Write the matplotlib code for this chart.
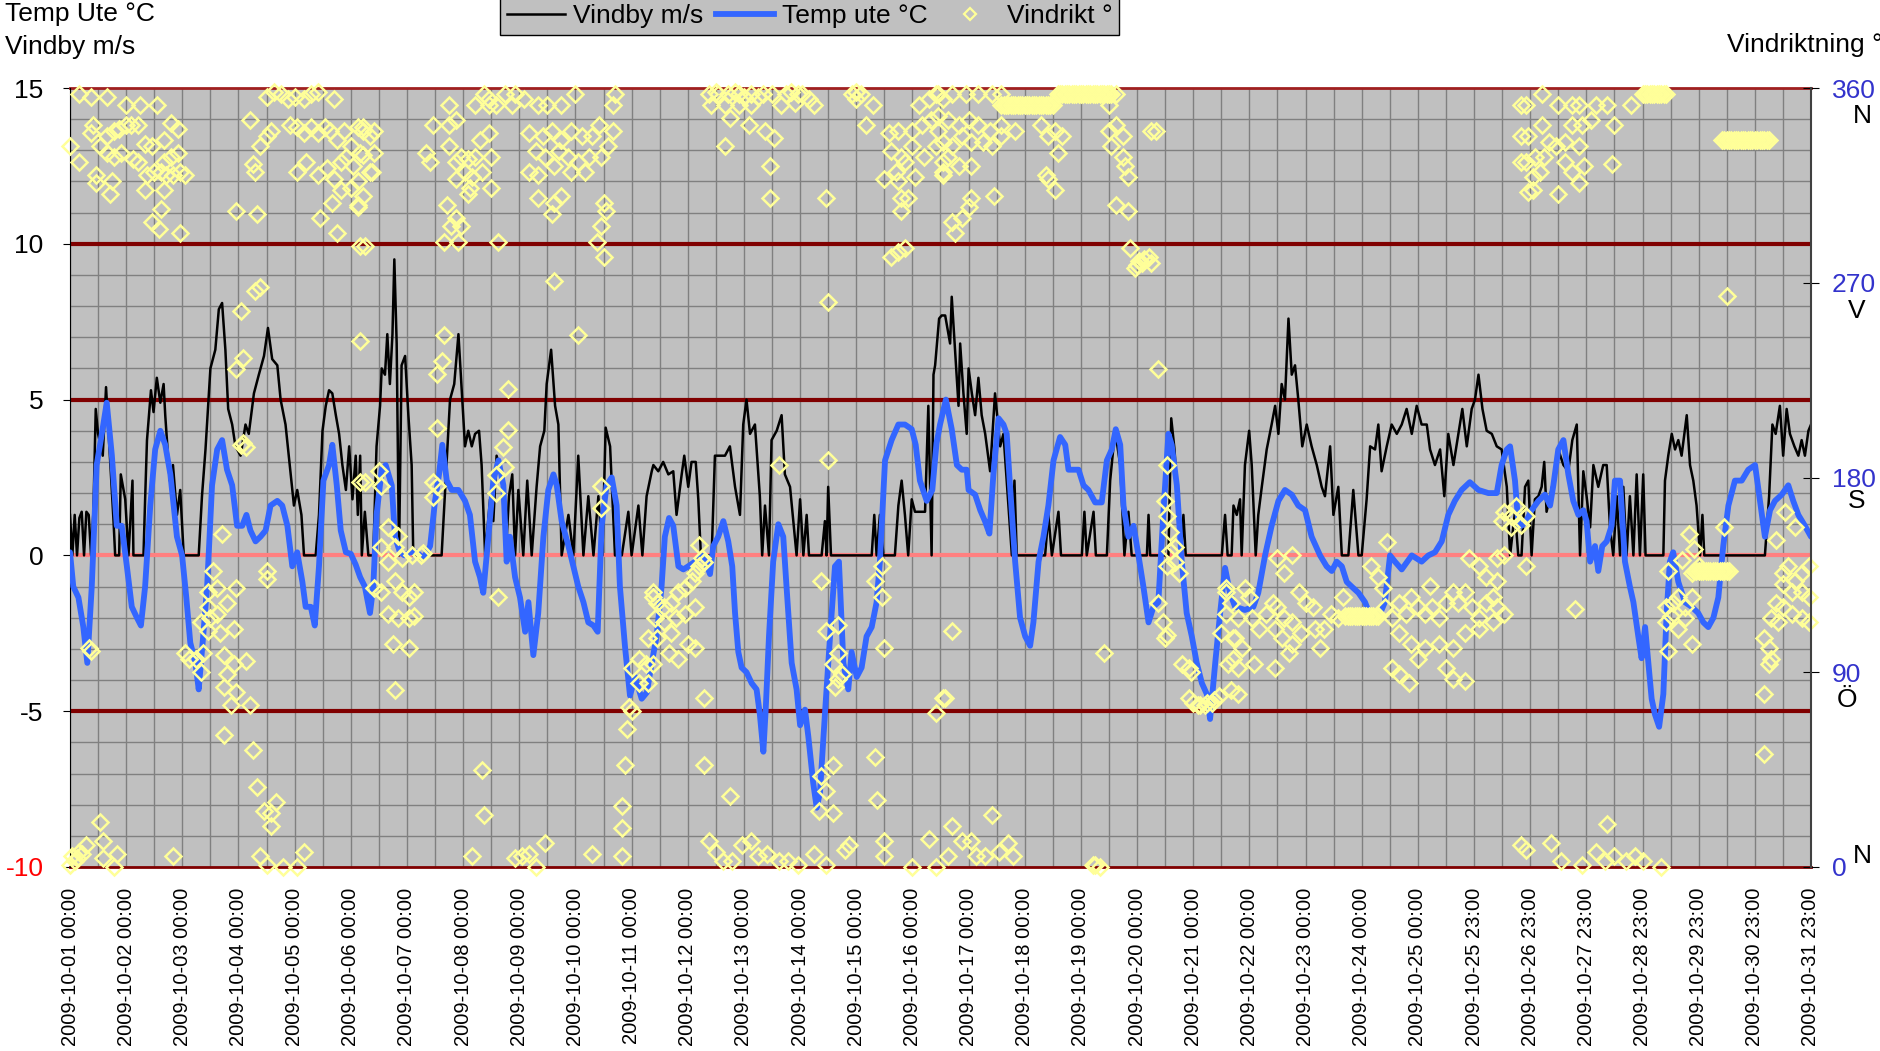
import numpy as np
import matplotlib.pyplot as plt
from matplotlib.lines import Line2D
from matplotlib.transforms import blended_transform_factory

plt.rcParams['font.family'] = ['Liberation Sans', 'DejaVu Sans']
plt.rcParams['axes.unicode_minus'] = False

# x axis: hourly category index 0..744 (Oct 2009, 25 Oct has 25 hours)
tick_labels = ['2009-10-%02d 00:00' % d for d in range(1, 26)] + \
              ['2009-10-%02d 23:00' % d for d in range(25, 32)]

# Vindby m/s (hour index, value)
wind_h = [0, 1, 2, 3, 4, 5, 6, 7, 8, 9, 10, 11, 12, 14, 15.4, 16.5, 18.6, 19.3, 21, 21.7, 23.6, 25, 26.7, 27.1,
          31.4, 32.1, 32.9, 34.6, 35.7, 37.1, 38.6, 40, 40.7, 42.6, 44, 45.7, 47.1, 48.6, 55, 56.4, 57.9, 60,
          62.1, 63.6, 65, 66.4, 67.6, 69.3, 70.7, 72.9, 75, 76.4, 78.6, 80.7, 82.9, 84.6, 86.4, 88.6, 90, 92.1,
          94.3, 95.7, 97.1, 98.9, 100, 105, 106.4, 107.9, 109.3, 110.7, 112.1, 113.6, 115, 116.4, 117.9, 119.3,
          120.7, 122.1, 123, 124, 124.7, 126, 127.5, 129.6, 131, 132.5, 133.2, 134.6, 135.6, 136.7, 137.8,
          138.6, 139.6, 140.6, 141.7, 143.2, 144.6, 146, 146.7, 158.8, 160.9, 162.4, 164.2, 166, 167.4, 168.8,
          170.2, 171.7, 173.1, 174.8, 175.9, 177.4, 179.5, 180.9, 182.3, 184.5, 186.2, 187.6, 189, 190.2, 191.6,
          193.7, 195.4, 197.3, 199.4, 200.9, 202.7, 203.7, 205.6, 207.3, 208.7, 210.1, 213, 215.1, 217.2, 219.4,
          221.5, 223.7, 225.8, 227.5, 228.9, 230.8, 232.9, 235.8, 238.6, 240, 242.9, 244.6, 246.4, 248.6, 249.3,
          251.4, 253.5, 255.7, 257.8, 259.2, 261.4, 262.5, 264.2, 265.6, 267.4, 268.5, 269.6, 274.2, 275.6,
          277.8, 279.9, 282, 284.2, 286.3, 287.7, 289.1, 290.6, 292.7, 294.8, 295.8, 297, 298.7, 299.8, 302,
          304.1, 305.5, 307.7, 309.1, 310.5, 312, 313.4, 314.8, 315.8, 321.2, 322.6, 323.3, 324, 325.2, 342.6,
          343.7, 344.7, 346.1, 347.6, 352.5, 354, 355.4, 356.8, 358.2, 359.7, 361.1, 365.4, 366.8, 368.2, 369,
          369.7, 371.4, 372.5, 374, 376.1, 376.8, 378.2, 379.7, 380.4, 381.8, 383.2, 384, 385.4, 386.8, 388.2,
          389.6, 391.1, 393.2, 395.3, 397.5, 398.9, 401, 402.5, 403.6, 404.6, 416.7, 418.1, 419.6, 422.4, 423.5,
          432.4, 433.5, 434.5, 437.4, 438.4, 443.1, 444.5, 446.6, 448.8, 450.6, 452.3, 453.7, 460.2, 460.9,
          461.6, 469.4, 470.6, 472, 473.7, 474.8, 475.8, 476.8, 492.2, 493.6, 494.7, 496.4, 497.2, 498.6, 500,
          500.7, 502.1, 503.9, 505, 506.7, 507.8, 509.3, 511.4, 513.5, 515, 516.4, 517.8, 519.2, 520.7, 522.1,
          523.5, 524.9, 526.6, 528.5, 530.6, 532.8, 534.9, 536.3, 538.5, 539.9, 542, 543.5, 546.3, 548.4, 550.6,
          552, 554.1, 555.6, 557.7, 559.1, 560.5, 562.7, 564.8, 567, 569.1, 571.2, 573.4, 575.5, 577.6, 579.8,
          581.2, 583.3, 585.5, 587.3, 589, 591.2, 593.3, 595, 596.9, 599, 600.4, 601.9, 603.6, 605.4, 607.6,
          609.7, 611.8, 614, 615.4, 617.5, 618.9, 620.3, 621.8, 623.2, 624.6, 626, 627.5, 628.9, 630, 631,
          632.5, 633.9, 636, 638.2, 640.3, 642, 643.9, 645.3, 646.7, 648.1, 649.6, 651, 653.1, 655.2, 656.7,
          658.1, 659.5, 661, 662.4, 663.8, 665.2, 666.6, 668.1, 669.5, 670.9, 672.3, 673.3, 680.9, 681.6, 683,
          684.5, 685.9, 687.3, 688.7, 690.9, 692.3, 693.7, 695.1, 696.6, 697.6, 698.4, 724.3, 726.1, 727.5,
          728.9, 730.7, 732.1, 733.6, 735, 736.9, 738.6, 740, 741.4, 742.9, 744]
wind_v = [1.3, 0, 1.3, 0, 1.2, 1.4, 0, 1.4, 1.3, 0, 1.4, 4.7, 3.9, 3.2, 5.4, 3.9, 1.1, 0, 0, 2.6, 1.8, 0, 2.4, 0,
          0, 1.8, 3.7, 5.3, 4.6, 5.7, 4.9, 5.5, 4.5, 2.4, 2.9, 1.3, 2.1, 0, 0, 1.9, 3.4, 6.0,
          6.6, 7.9, 8.1, 6.6, 4.7, 4.2, 3.5, 3.2, 4.2, 3.9, 5.2, 5.8, 6.4, 7.3, 6.3, 6.1, 5.0, 4.2,
          2.6, 1.6, 2.1, 1.3, 0, 0, 1.3, 4.0, 4.8, 5.3, 5.2, 4.5, 3.9, 2.9, 2.1, 3.5,
          1.8, 3.2, 1.3, 3.2, 0, 1.4, 0, 0, 3.5, 4.8, 6.0, 5.8, 7.1, 5.5, 7.1,
          9.5, 6.8, 0, 6.1, 6.4, 4.5, 2.9, 0, 0, 2.9, 5.0, 5.5, 7.1, 5.3, 3.5,
          4.0, 3.5, 3.9, 4.0, 2.9, 0, 1.8, 1.1, 3.2, 2.6, 0, 1.9, 2.6, 0, 2.1,
          0, 2.4, 0, 2.2, 3.5, 4.0, 5.5, 6.6, 4.8, 4.2, 0, 1.3, 0, 3.2, 0,
          1.9, 0, 1.9, 0, 4.1, 3.5, 0, 0, 1.4, 0, 1.6, 0, 1.9, 2.7, 2.9,
          2.7, 3.0, 2.6, 2.7, 1.3, 2.6, 3.2, 2.2, 3.0, 3.0, 1.8, 0, 0, 3.2,
          3.2, 3.2, 3.5, 2.2, 1.3, 4.2, 5.0, 3.9, 4.2, 1.9, 0, 1.6, 0, 3.7, 4.0,
          4.5, 2.6, 2.2, 1.1, 0, 1.8, 0, 1.3, 0, 0, 1.1, 0, 2.2, 0, 0,
          1.3, 0, 1.3, 0, 0, 1.6, 2.4, 1.3, 0, 1.8, 1.4, 1.4, 4.8, 0, 5.8,
          6.1, 7.6, 7.7, 7.7, 6.8, 8.3, 6.6, 4.8, 6.8, 5.2, 3.9, 6.0, 5.2, 4.5, 5.7,
          4.5, 3.9, 2.7, 5.2, 3.5, 3.9, 1.6, 0, 2.4, 0, 0, 1.3, 0, 1.4, 0,
          0, 1.4, 0, 1.4, 0, 0, 2.4, 4.0, 2.9, 0, 1.4, 0, 0, 1.3,
          0, 0, 4.4, 3.4, 1.3, 0, 1.3, 0, 0, 1.3, 0, 0, 1.6, 1.3, 1.8,
          0, 2.9, 4.0, 2.9, 0, 1.3, 2.2, 3.4, 4.2, 4.8, 3.9, 5.5, 5.0, 7.6, 5.8,
          6.1, 5.0, 3.5, 4.2, 3.5, 2.9, 2.2, 1.9, 3.5, 1.3, 2.2, 0, 0, 2.1, 0,
          0, 1.8, 3.5, 3.4, 4.2, 2.7, 3.5, 4.2, 3.9, 4.2, 4.7, 3.9, 4.8, 4.2, 4.2,
          3.4, 2.9, 3.4, 1.9, 3.9, 2.9, 3.9, 4.7, 3.5, 4.7, 5.0, 5.8, 4.7, 4.0, 3.9,
          3.5, 3.4, 2.2, 0, 1.4, 0, 0, 2.2, 2.4, 0, 1.8, 1.9, 2.2, 3.0, 1.4,
          1.9, 2.4, 3.4, 2.9, 2.7, 3.7, 4.2, 0, 2.7, 1.9, 0.9, 2.9, 2.2, 2.9, 2.9,
          0.9, 0, 1.9, 0, 2.2, 0, 1.9, 0, 2.6, 0, 2.6, 0, 0, 2.4, 3.2,
          3.9, 3.4, 3.7, 3.2, 4.5, 2.9, 2.4, 1.6, 0, 1.3, 0, 0, 1.9, 4.2,
          3.9, 4.8, 3.2, 4.7, 3.9, 3.5, 3.2, 3.7, 3.2, 4.0, 4.2]

# Temp ute °C (hour index, value)
temp_h = [0, 1.4, 3.6, 5.7, 7.4, 9.3, 11.4, 13.6, 15.7, 17.9, 20, 22.1, 24.3, 26.4, 28.6, 30.3, 32.1, 34.3,
          36.4, 38.6, 40.7, 42.9, 45.7, 47.9, 49.7, 51.4, 53.6, 55, 56.9, 58.6, 60.7, 62.9, 65, 67.1, 69.3,
          71.4, 73.6, 75.4, 77.1, 79.3, 81.4, 83.6, 85.7, 88.6, 90.7, 92.9, 95, 97.1, 99.3, 100.7, 102.9,
          104.6, 106.4, 108.3, 110.7, 112.1, 114, 115.7, 117.9, 120, 122.1, 124, 126, 128.2, 129.6, 131,
          133.2, 134.9, 137.5, 138.9, 141, 143, 145.3, 148.2, 151, 153.9, 156, 157.7, 159.1, 161, 163.1, 166,
          168.8, 170.9, 173.1, 175.2, 176.6, 178.8, 180.9, 183.1, 185.2, 186.6, 188, 190.2, 192.3, 194.5,
          195.9, 198, 200.1, 202.3, 204.4, 206.6, 208, 210.1, 213, 215.1, 217.2, 219.4, 221.5, 223.7, 225.5,
          227.2, 229.3, 231.5, 233.6, 235, 237.2, 239.3, 241.5, 244.3, 246.5, 248.6, 250.7, 252.8, 254.2, 256,
          257.8, 260, 262.1, 264.2, 267.1, 270.6, 273.5, 274.9, 277, 279.2, 281.3, 283, 284.2, 285.6, 287,
          289.1, 291.3, 293.4, 294.8, 296.3, 297.3, 298.7, 300.5, 302.7, 304.8, 306.2, 308.4, 310.5, 312,
          314.1, 315.5, 317.6, 319.1, 320.5, 322.6, 324.8, 326.9, 328.6, 330.5, 332.6, 334, 336.2, 338.3,
          340.4, 342.6, 344.7, 346.1, 348.3, 351.1, 354, 356.8, 359.7, 361.4, 363.2, 366.1, 368.5, 370.3,
          371.8, 374.3, 376.8, 379, 381.1, 383.2, 384, 386.8, 389, 391, 392.9, 394.6, 396.8, 398.9, 400.3,
          401.7, 403.9, 406, 408.2, 410.3, 411.7, 413.9, 416, 418.1, 420.3, 423.1, 425.3, 426.7, 431, 433.1,
          435.2, 438.1, 440.9, 443.1, 445.2, 446.9, 448.8, 450.2, 452.3, 454.5, 456.6, 458.7, 460.9, 463,
          465.1, 467.3, 469.4, 470.8, 473, 475.1, 477.2, 479.4, 481.5, 483.7, 485.8, 487.2, 489.4, 491.5,
          493.6, 495.7, 497.9, 502.1, 505.7, 507.8, 510.7, 513.5, 516.4, 519.2, 522.1, 524.9, 527.8, 530.6,
          534.2, 537, 539.2, 541.3, 543.5, 545.6, 547.7, 550.6, 553.4, 556.3, 559.1, 561.9, 564.1, 566.2,
          569.1, 573.4, 577.6, 580.5, 583.3, 586.2, 589, 591.8, 594.7, 598.2, 601.9, 606.1, 609.7, 611.8, 614,
          615.4, 617.5, 619, 620.3, 622.3, 624.6, 627.5, 630.3, 632.5, 633.9, 636, 638.2, 640.3, 642.4, 644.6,
          646.7, 648.1, 649.6, 651.7, 653.1, 654.8, 656.7, 658.8, 660.2, 662.4, 664.5, 666.6, 668.1, 670.2,
          671.6, 673.1, 674.5, 675.9, 677.3, 679.1, 680.9, 682.3, 683.7, 685.1, 687.3, 690.1, 693, 695.8, 698,
          700.1, 702.3, 704.4, 706.5, 708.7, 711.5, 714.4, 717.2, 720.1, 722.2, 724.3, 726.5, 728.6, 731.5,
          734.3, 736.4, 738.6, 741.4, 744]
temp_c = [0.1, -1.0, -1.35, -2.3, -3.45, -1.0, 2.9, 3.9, 4.9, 3.2, 0.95, 0.95, -0.35, -1.65, -2.0, -2.25, -1.0, 1.6,
          3.4, 4.0, 3.55, 2.6, 0.6, 0, -1.35, -2.8, -3.45, -4.3, -2.6, -1.0, 2.25, 3.4, 3.7, 2.75, 2.25,
          0.95, 0.95, 1.3, 0.8, 0.45, 0.6, 0.8, 1.6, 1.75, 1.6, 0.95, -0.35, 0.1, -0.85, -1.65, -1.65,
          -2.25, -0.35, 2.4, 2.9, 3.55, 2.25, 0.8, 0.1, 0.05, -0.3, -0.7, -1.0, -1.85, -1.0, 1.3,
          2.75, 2.9, 2.25, 0.6, 0.1, 0, 0.1, 0.1, -0.1, 0.3, 1.75, 2.6, 3.55, 2.4, 2.1, 2.1,
          1.75, 1.3, -0.2, -0.7, -1.2, 0.6, 2.4, 3.05, 2.25, -0.2, 0.6, -0.7, -1.35, -2.45,
          -1.5, -3.2, -1.85, 0.6, 2.1, 2.6, 2.25, 1.1, 0.3, -0.35, -1.0, -1.5, -2.15, -2.25, -2.45,
          0.95, 2.25, 2.5, 1.6, -1.0, -2.95, -4.5, -3.9, -4.6, -4.4, -3.45, -2.6, -1.0, 0.6, 1.2,
          0.95, -0.35, -0.45, -0.35, -0.2, 0, -0.6, 0.3, 0.6, 1.1, 0.45, -0.35, -1.85, -3.1, -3.6,
          -3.75, -4.1, -4.3, -5.1, -6.3, -4.95, -2.6, -0.2, 1.0, 0.6, -1.0, -3.45, -4.3, -5.45,
          -4.95, -5.8, -7.3, -8.1, -7.6, -5.1, -2.6, -0.35, -0.2, -3.45, -4.3, -3.1, -3.9, -3.6,
          -2.6, -2.3, -1.5, -0.2, 3.05, 3.7, 4.2, 4.2, 4.05, 3.55, 2.4, 1.75, 2.1, 3.6,
          4.2, 5.0, 4.05, 2.9, 2.75, 2.75, 2.1, 1.95, 1.45, 1.1, 0.7, 2.6, 4.4, 4.2, 3.9,
          2.25, -0.2, -2.0, -2.6, -2.9, -2.15, -0.2, 0.6, 1.6, 3.05, 3.8, 3.55, 2.75, 2.75, 2.25,
          2.1, 1.7, 1.7, 3.05, 3.4, 4.05, 3.55, 1.6, 0.6, 0.95, 0, -1.0, -2.15, -1.65,
          -1.5, 1.45, 3.9, 3.55, 2.25, -0.2, -1.85, -2.6, -3.45, -4.1, -4.45, -5.25, -3.45, -1.85,
          -0.4, -1.2, -1.65, -1.75, -1.65, -1.2, 0, 0.95, 1.75, 2.1, 1.95, 1.6, 1.45, 0.6,
          0, -0.35, -0.5, -0.2, -0.35, -0.85, -1.0, -1.2, -1.5, -2.05, -2.0, -1.5, 0, -0.2,
          -0.45, 0, -0.2, 0, 0.1, 0.45, 1.3, 1.75, 2.1, 2.35, 2.1, 2.0, 2.0, 2.9, 3.4,
          3.5, 2.4, 0.95, 0.95, 1.1, 1.45, 1.75, 1.95, 1.6, 2.25, 3.4, 3.7, 2.6, 1.75, 1.3,
          1.45, 1.1, -0.2, 0.3, -0.5, 0.3, 0.45, 0.95, 2.4, 2.4, -0.2, -1.0, -1.5, -2.6,
          -3.3, -2.3, -3.45, -4.6, -5.1, -5.5, -4.45, -1.85, -0.2, 0.1, -0.85, -1.5, -1.65, -1.85, -2.15,
          -2.3, -2.0, -1.35, 0.3, 1.6, 2.4, 2.4, 2.75, 2.9, 1.75, 0.6, 1.45, 1.75, 1.95,
          2.25, 1.75, 1.3, 0.95, 0.6]

# Vindrikt ° (hour index, degrees)
dir_h = [0, 4, 9, 16, 4, 10, 9, 13, 16, 19, 21, 24, 26, 29, 24, 30, 37, 11, 11, 18, 17, 16, 19, 22, 27, 29, 32,
         35, 40, 43, 46, 40, 43, 46, 33, 36, 39, 41, 44, 47, 49, 32, 40, 39, 35, 38, 47,
         71, 80, 77, 81, 84, 86, 78, 79, 84, 87, 90, 93, 96, 100, 103, 106, 113,
         94, 97, 100, 103, 106, 109, 111, 114, 117, 120, 123, 125, 97, 101, 106, 110, 113, 116, 118, 121, 124,
         107, 112, 114, 116, 120, 123, 124, 124, 79, 81, 73, 74, 71, 73, 74, 75, 65, 61, 124, 84, 84,
         59, 63, 67, 71, 59, 60, 63, 56, 59, 64, 70, 49, 51, 54, 57, 56, 66, 70, 75, 67, 66, 71, 69, 77, 8, 9, 66,
         78, 80, 83, 88, 86, 86, 13, 14, 1, 4, 7, 14, 20, 19, 44, 81, 84, 91, 97, 100, 0, 2, 3, 5,
         125, 128, 130, 125, 123, 128, 129, 125, 123, 130, 152, 154, 155, 162, 162, 165, 162, 165, 167, 170, 173,
         175, 179, 180, 169, 172, 176, 165, 171, 170, 173, 177, 179, 182, 179, 161, 165, 163, 167, 160, 166, 180,
         183, 126, 186, 190, 194, 189, 200, 204, 210, 216, 233, 232, 196, 202, 206, 210, 214, 219, 223, 226, 232,
         199, 203, 209, 213, 217, 222, 227, 230, 196, 200, 207, 214, 220, 200, 207, 210, 206, 228, 229, 227, 225,
         228, 207, 217, 160, 157, 159, 157, 187, 187, 185, 182, 182, 186, 126, 132, 133, 155, 155, 157, 227, 227,
         183, 136, 140, 139, 133, 136, 142, 146, 150, 151, 130, 133, 139, 142, 145, 147, 136, 140, 145, 147, 138,
         145, 139, 240, 243, 246, 247, 243, 239, 240, 238, 237, 236, 236, 236, 249, 176, 177, 172, 190, 193, 196,
         199, 203, 223,
         273, 277, 281, 286, 291, 296, 300, 306, 311, 316, 318, 334, 338, 343, 340, 274, 280, 286, 291, 304, 310,
         276, 284, 288, 294, 308, 313, 336, 336, 282, 290, 297, 301, 280, 299, 299, 323, 350, 354, 360, 364, 368,
         371, 363, 367, 371, 351, 355, 360, 365, 370, 373, 353, 357, 361, 348, 354, 355, 358, 355, 373, 351, 354,
         357, 324, 324, 303, 269, 270, 249, 251, 254, 257, 260, 263, 266, 267, 269, 271, 250, 254, 259, 263, 267,
         247, 251, 257, 264, 267, 249, 256, 260, 271, 321, 323, 328, 328, 326, 328, 330, 327, 347, 344, 347, 348,
         271, 282, 321, 326, 320, 326, 323, 344, 345, 370, 373, 273, 276, 279, 283, 287, 291, 294, 298, 303, 307,
         311, 318, 323, 331, 333, 348, 348, 360, 367, 370,
         370, 373, 377, 383, 388, 394, 398, 398, 399, 400, 401, 402, 403, 404, 405, 406, 407, 408, 409, 410, 411,
         412, 413, 414, 415, 416, 417, 418, 419, 420, 422, 423, 424, 425, 426, 427, 428, 429, 430, 431, 432, 433,
         434, 435, 436, 437, 438, 439, 440, 441, 442, 443, 444, 445, 447, 444, 371, 375, 380, 384, 388, 393, 398,
         404, 415, 418, 421, 424, 373, 377, 381, 385, 390, 394, 398, 373, 375, 380, 385, 418, 421, 422, 417, 395,
         377, 378, 381, 385, 384, 444, 447, 450, 445, 450, 451, 452, 447, 452, 462, 464, 453, 455, 458, 461, 462,
         456, 457, 459, 465, 469, 468, 469, 470, 470, 472, 472, 469, 474, 465, 467, 468, 469, 475, 478, 479, 478,
         482, 485, 488, 491, 480, 483, 486, 489, 494, 494, 492, 497, 497, 377, 374, 442, 377, 381, 385, 387, 391,
         394, 397, 401, 403, 375, 440, 437, 438,
         620, 620, 620, 494, 496, 499, 502, 504, 505, 498, 501, 495, 499, 496, 499, 506, 508, 511, 514, 516, 519,
         522, 525, 528, 531, 515, 518, 522, 526, 532, 515, 521, 534, 516, 522, 519, 536, 539, 544, 542, 545, 546,
         547, 548, 549, 550, 551, 552, 553, 554, 555, 556, 557, 558, 559, 556, 559, 561, 563, 562, 565, 568, 571,
         573, 576, 579, 582, 585, 588, 591, 593, 596, 599, 602, 605, 608, 610, 613, 568, 573, 579, 585, 591, 596,
         602, 608, 565, 568, 572, 576, 588, 591, 596, 581, 598, 602, 605, 610, 610, 613, 616, 613, 616, 612, 620,
         622, 629, 636, 642, 645, 652, 657, 667, 672, 673, 674, 675, 676, 677, 678, 679, 680, 681, 682, 623, 629,
         632, 635, 639, 642, 646, 650, 660, 645, 622, 626, 630, 639, 642, 647, 659, 625, 628, 625, 623, 636, 645,
         706, 707, 708, 709, 710, 711, 712, 713, 714, 715, 716, 717, 718, 719, 720, 721, 722, 723, 724, 725, 726,
         708, 622, 620, 618, 622, 692, 694, 689, 683, 693, 696, 694, 695, 696, 697, 698, 699, 700, 701, 702, 703,
         704, 705, 706, 707, 708, 709, 707, 643, 682, 685, 687, 690, 693, 682, 684, 687, 690, 693, 683, 729, 733,
         737, 732, 734, 737, 740, 743, 732, 736, 740, 743, 729, 732, 736, 740, 743, 727, 730, 724, 726, 727, 726,
         724, 724, 622, 633, 637, 646, 652, 656, 657, 660, 665, 669, 672, 680]
dir_deg = [333, 357, 356, 356, 326, 343, 339, 333, 338, 340, 341, 343, 343, 343, 352, 352, 352, 320, 316, 317, 311,
           330, 328, 330, 327, 326, 334, 333, 336, 344, 341, 326, 328, 330, 320, 321, 321, 320, 320, 321, 320, 313,
           313, 304, 298, 295, 293,
           303, 302, 345, 333, 338, 340, 325, 321, 356, 358, 357, 355, 356, 355, 357, 358, 355,
           343, 342, 339, 342, 339, 342, 340, 336, 340, 333, 342, 342, 321, 326, 320, 323, 318, 326, 328, 324, 330,
           300, 307, 293, 313, 314, 306, 287, 243, 266, 268, 257, 235, 230, 195, 196, 194, 154, 137, 178, 137, 133,
           127, 129, 122, 129, 120, 115, 117, 113, 109, 108, 110, 99, 96, 96, 99, 90, 98, 94, 95, 89, 83, 81, 75, 75,
           101, 100, 61,
           54, 37, 26, 30, 19, 25, 21, 12, 5, 7, 10, 4, 6, 0, 5, 5, 1, 0, 0, 7, 1, 3, 4, 6,
           340, 338, 340, 329, 317, 321, 321, 310, 305, 330, 330, 326, 343, 352, 343, 345, 333, 326, 328, 327, 328,
           336, 339, 328, 321, 319, 321, 318, 314, 311, 352, 357, 352, 352, 355, 306, 300, 296, 296, 289, 289, 314,
           289, 287, 357, 357, 355, 352, 352, 352, 352, 357, 357, 352, 339, 338, 340, 336, 340, 338, 338, 343, 340,
           331, 328, 331, 328, 326, 328, 328, 333, 321, 320, 324, 321, 321, 309, 307, 310, 302, 307, 303, 296, 289,
           282, 271, 246, 246, 228, 234, 203, 221, 202, 194, 181, 173, 185, 178, 183, 176, 178, 171, 176, 176, 166,
           125, 157, 153, 148, 148, 141, 143, 144, 144, 145, 129, 127, 132, 127, 125, 127, 117, 115, 115, 116, 103,
           101, 82, 92, 96, 94, 85, 85, 74, 72, 64, 47, 28, 18, 5, 125, 45, 24, 5, 4, 5, 6,
           0, 11, 6,
           357, 357, 357, 357, 357, 357, 357, 357, 357, 355, 352, 357, 357, 352, 343, 352, 352, 352, 352, 352, 353,
           358, 358, 356, 356, 358, 357, 358, 355, 346, 343, 340, 337, 333, 324, 309, 309, 339, 340, 340, 343, 345,
           340, 352, 355, 357, 331, 328, 333, 328, 333, 326, 321, 326, 319, 318, 317, 309, 309, 303, 321, 282, 284,
           286, 261, 188, 186, 149, 143, 127, 122, 120, 122, 127, 129, 132, 136, 139, 141, 115, 113, 115, 117, 120,
           106, 106, 108, 103, 101, 94, 99, 96, 78, 132, 109, 112, 99, 94, 87, 89, 83, 139, 132, 125, 101,
           47, 33, 42, 47, 26, 25, 35, 51, 31, 71, 78, 12, 7, 3, 3, 10, 12, 5, 6, 3, 3,
           1, 6, 1, 8, 10, 12, 5, 0, 13, 0,
           357, 355, 357, 357, 357, 357, 357, 352, 352, 352, 352, 352, 352, 352, 352, 352, 352, 352, 352, 352, 352,
           352, 352, 352, 352, 352, 352, 352, 352, 352, 357, 357, 357, 357, 357, 357, 357, 357, 357, 357, 357, 357,
           357, 357, 357, 357, 357, 357, 357, 357, 357, 357, 357, 357, 357, 352, 347, 345, 343, 345, 343, 340, 343,
           340, 343, 338, 340, 338, 335, 333, 338, 335, 335, 333, 338, 320, 328, 324, 324, 318, 313, 330, 320, 310,
           298, 293, 300, 309, 305, 340, 343, 338, 333, 328, 324, 319, 306, 303, 340, 340, 286, 277, 279, 282, 279,
           278, 280, 281, 230, 186, 169, 162, 155, 146, 148, 141, 139, 136, 122, 113, 106, 107, 94, 92, 90, 78,
           75, 75, 76, 79, 76, 75, 76, 77, 127, 117, 108, 106, 96, 109, 78, 99, 19, 12, 12, 5, 5,
           24, 7, 11, 5, 5, 0, 1, 1,
           352, 338, 326, 129, 122, 115, 129, 125, 115, 106, 101, 94, 92, 82, 80, 94, 110, 117, 122, 120, 115,
           113, 127, 122, 120, 110, 106, 103, 108, 110, 92, 99, 101, 143, 144, 136, 110, 117, 125, 115, 116, 116,
           116, 116, 116, 116, 116, 116, 116, 116, 116, 116, 116, 116, 116, 139, 134, 129, 150, 120, 115, 122, 117,
           125, 120, 117, 120, 115, 122, 127, 122, 127, 120, 115, 122, 125, 120, 117, 108, 103, 101, 103, 101, 108,
           110, 113, 92, 89, 85, 96, 92, 87, 86, 130, 143, 139, 134, 132, 143, 144, 157, 164, 162, 160, 10,
           352, 357, 352, 352, 352, 352, 352, 352, 357, 357, 357, 357, 357, 357, 357, 357, 357, 357, 357, 338, 343,
           335, 333, 335, 343, 343, 345, 343, 333, 326, 328, 328, 326, 321, 324, 325, 319, 321, 313, 312, 311, 316,
           336, 336, 336, 336, 336, 336, 336, 336, 336, 336, 336, 336, 336, 336, 336, 336, 336, 336, 336, 336, 336,
           264, 162, 158, 167, 139, 154, 147, 142, 137, 136, 139, 137, 137, 137, 137, 137, 137, 137, 137, 137, 137,
           137, 137, 137, 137, 137, 137, 157, 119, 120, 122, 125, 120, 125, 113, 116, 110, 115, 103, 100, 151, 164,
           157, 136, 139, 132, 136, 139, 131, 127, 127, 125, 122, 120, 117, 115, 113, 115, 113, 106, 101, 96, 94,
           80, 52, 8, 11, 3, 1, 7, 3, 20, 5, 3, 5, 3, 0]

fig = plt.figure(figsize=(18.81, 10.51), dpi=100)
ax = fig.add_axes([70 / 1881, 1 - 867 / 1051, 1741 / 1881, 779 / 1051])
ax.set_facecolor('#C0C0C0')
ax.set_xlim(0, 744)
ax.set_ylim(-10, 15)

ax.set_xticks(np.arange(0, 745, 24))
ax.set_xticklabels(tick_labels, rotation=90, fontsize=14.5)
ax.set_xticks(np.arange(0, 745, 12), minor=True)
ax.set_yticks([-10, -5, 0, 5, 10, 15])
ax.set_yticks(np.arange(-10, 16, 1), minor=True)
ax.tick_params(axis='x', which='both', length=0, pad=15)
ax.tick_params(axis='y', which='major', length=5, direction='out', labelsize=19, pad=14)
ax.tick_params(axis='y', which='minor', length=0)
ax.get_yticklabels()[0].set_color('red')
ax.grid(which='both', color='#808080', lw=1.0, zorder=0)
ax.set_axisbelow(True)
for s in ['top', 'bottom']:
    ax.spines[s].set_visible(False)
ax.spines['left'].set_color('black')
ax.spines['right'].set_visible(False)

for v in [10, 5, -5]:
    ax.axhline(v, color='#800000', lw=3, zorder=2)
ax.axhline(15, color='#A02020', lw=2, zorder=2, clip_on=False)
ax.axhline(-10, color='#800000', lw=2, zorder=2, clip_on=False)
ax.axhline(0, color='#FF8080', lw=3, zorder=2)

ax.plot(wind_h, wind_v, color='black', lw=1.8, zorder=3)
ax.plot(temp_h, temp_c, color='#3366FF', lw=4.2, zorder=4, solid_joinstyle='round', solid_capstyle='round')

ax2 = ax.twinx()
ax2.set_ylim(0, 360)
ax2.plot(dir_h, dir_deg, ls='none', marker='D', ms=8.5, mfc='none', mec='#FFFF99', mew=1.8,
         clip_on=False)
ax2.set_yticks([0, 90, 180, 270, 360])
ax2.tick_params(axis='y', direction='inout', length=12, labelsize=19, labelcolor='#3333CC', pad=9)
for s in ['top', 'bottom', 'left']:
    ax2.spines[s].set_visible(False)
ax2.spines['right'].set_color('#404040')
ax2.spines['right'].set_linewidth(1.5)

tr = blended_transform_factory(fig.transFigure, ax2.transData)
for txt, xp, dg in [('N', 1862, 347), ('V', 1857, 257), ('S', 1857, 169), ('Ö', 1847, 77), ('N', 1862, 5)]:
    ax2.text(xp / 1881, dg, txt, transform=tr, ha='center', va='center', fontsize=19, clip_on=False)

fig.text(5 / 1881, 1 - 14 / 1051, 'Temp Ute °C', fontsize=19, va='center', ha='left')
fig.text(5 / 1881, 1 - 47 / 1051, 'Vindby m/s', fontsize=19, va='center', ha='left')
fig.text(1727 / 1881, 1 - 45 / 1051, 'Vindriktning °', fontsize=19, va='center', ha='left')

handles = [Line2D([], [], color='black', lw=1.8),
           Line2D([], [], color='#3366FF', lw=4.2),
           Line2D([], [], ls='none', marker='D', ms=6.5, mfc='none', mec='#FFFF99', mew=1.6)]
leg = fig.legend(handles, ['Vindby m/s', 'Temp ute °C', 'Vindrikt °'], loc='lower left',
                 bbox_to_anchor=(500 / 1881, 1 - 35 / 1051), ncol=3, fontsize=19, frameon=True,
                 fancybox=False, facecolor='#C0C0C0', edgecolor='black', framealpha=1,
                 borderpad=0.25, handlelength=2.2, handletextpad=0.3, columnspacing=0.5,
                 borderaxespad=0)

fig.savefig('out.png', dpi=100)
